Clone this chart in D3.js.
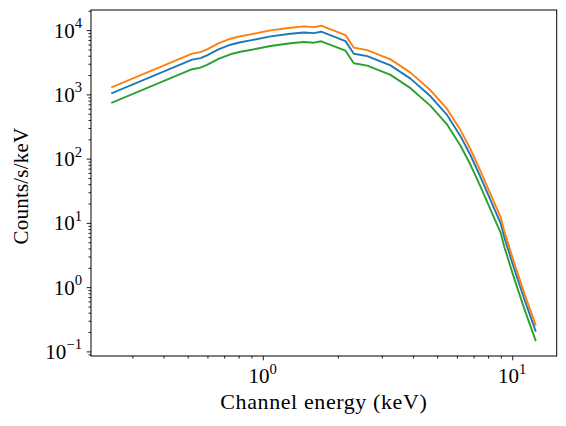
<!DOCTYPE html>
<html>
<head>
<meta charset="utf-8">
<script src="https://cdn.jsdelivr.net/npm/d3@7"></script>
<style>
  html, body { margin: 0; padding: 0; background: #fff; }
  svg text { font-family: "Liberation Serif", "DejaVu Serif", serif; fill: #000; }
</style>
</head>
<body>
<svg id="chart" width="566" height="426"></svg>
<script>
// channel energy (keV)
var energy = [0.249, 0.521, 0.563, 0.598, 0.664, 0.742, 0.814, 0.893, 1.074, 1.291, 1.460,
    1.602, 1.715, 2.146, 2.317, 2.623, 3.251, 3.910, 4.704, 5.488, 6.204, 6.804, 7.463,
    8.185, 8.98, 9.31, 10.21, 11.20, 12.40];

// counts/s/keV, three spectra
var seriesOrange = [1303, 4304, 4557, 5018, 6220, 7357, 8044, 8578, 9901, 10907, 11423,
    11140, 11713, 8368, 5332, 4896, 3510, 2182, 1158, 588, 278, 140, 64.0,
    28.1, 12.4, 7.23, 2.31, 0.787, 0.260];
var seriesBlue = [1051, 3471, 3675, 4047, 5015, 5933, 6487, 6918, 7985, 8796, 9212,
    8984, 9446, 6748, 4300, 3948, 2831, 1760, 934, 474, 224, 113, 51.6,
    22.7, 9.96, 5.83, 1.86, 0.635, 0.210];
var seriesGreen = [746, 2464, 2609, 2873, 3561, 4212, 4606, 4912, 5669, 6245, 6541,
    6379, 6707, 4791, 3053, 2803, 2010, 1250, 663, 337, 159, 80.2, 36.6,
    16.1, 7.07, 4.14, 1.32, 0.451, 0.149];

var xTickExp = [0, 1];
var yTickExp = [-1, 0, 1, 2, 3, 4];

var series = [
    { values: seriesBlue, color: "#1f77b4" },
    { values: seriesOrange, color: "#ff7f0e" },
    { values: seriesGreen, color: "#2ca02c" }
];

var margin = { left: 91, top: 10, right: 9.3, bottom: 70 };
var svg = d3.select("#chart");
var width = 566 - margin.left - margin.right,
    height = 426 - margin.top - margin.bottom;

// log axes with 5% margins like matplotlib
var logPad = function (lo, hi) {
    var a = Math.log10(lo), b = Math.log10(hi), p = (b - a) * 0.05;
    return [Math.pow(10, a - p), Math.pow(10, b + p)];
};
var allY = seriesBlue.concat(seriesOrange, seriesGreen);
var x = d3.scaleLog().domain(logPad(d3.min(energy), d3.max(energy))).range([0, width]);
var y = d3.scaleLog().domain(logPad(d3.min(allY), d3.max(allY))).range([height, 0]);

var root = svg.append("g")
    .attr("transform", "translate(" + margin.left + "," + margin.top + ")");

// minor tick values inside the domain
var minorTicks = function (scale) {
    var d = scale.domain(), out = [];
    for (var e = Math.floor(Math.log10(d[0])); e <= Math.ceil(Math.log10(d[1])); e++) {
        for (var m = 2; m <= 9; m++) {
            var v = m * Math.pow(10, e);
            if (v >= d[0] && v <= d[1]) out.push(v);
        }
    }
    return out;
};

var xMajor = xTickExp.map(function (e) { return Math.pow(10, e); });
var yMajor = yTickExp.map(function (e) { return Math.pow(10, e); });

var gx = root.append("g").attr("transform", "translate(0," + height + ")");
gx.append("g").call(d3.axisBottom(x).tickValues(xMajor).tickSize(4.3).tickFormat(""));
gx.append("g").call(d3.axisBottom(x).tickValues(minorTicks(x)).tickSize(2.5).tickFormat(""));
var gy = root.append("g");
gy.append("g").call(d3.axisLeft(y).tickValues(yMajor).tickSize(4.3).tickFormat(""));
gy.append("g").call(d3.axisLeft(y).tickValues(minorTicks(y)).tickSize(2.5).tickFormat(""));
root.selectAll(".domain").remove();
root.selectAll(".tick line").attr("stroke", "#000").attr("stroke-width", 0.9);

var fs = 21;
var powerLabel = function (sel, exp) {
    sel.append("tspan").text("10");
    sel.append("tspan")
        .attr("dy", -0.45 * fs)
        .attr("font-size", fs * 0.7)
        .text(exp < 0 ? "\u2212" + Math.abs(exp) : exp);
};

xTickExp.forEach(function (e) {
    root.append("text")
        .attr("x", x(Math.pow(10, e)))
        .attr("y", height + 27)
        .attr("text-anchor", "middle")
        .attr("font-size", fs)
        .call(powerLabel, e);
});
yTickExp.forEach(function (e) {
    root.append("text")
        .attr("x", -9)
        .attr("y", y(Math.pow(10, e)) + 7.5)
        .attr("text-anchor", "end")
        .attr("font-size", fs)
        .call(powerLabel, e);
});

// lines
var line = d3.line()
    .x(function (d, i) { return x(energy[i]); })
    .y(function (d) { return y(d); });

root.selectAll("path.spec")
    .data(series)
    .enter()
    .append("path")
    .attr("class", "spec")
    .attr("fill", "none")
    .attr("stroke", function (d) { return d.color; })
    .attr("stroke-width", 1.9)
    .attr("stroke-linejoin", "round")
    .attr("stroke-linecap", "square")
    .attr("d", function (d) { return line(d.values); });

// frame
root.append("rect")
    .attr("width", width)
    .attr("height", height)
    .attr("fill", "none")
    .attr("stroke", "#000")
    .attr("stroke-width", 1);

// axis labels
svg.append("text")
    .attr("x", margin.left + width / 2)
    .attr("y", 409)
    .attr("text-anchor", "middle")
    .attr("font-size", 22)
    .attr("letter-spacing", 0.6)
    .text("Channel energy (keV)");

svg.append("text")
    .attr("transform", "translate(28,186) rotate(-90)")
    .attr("text-anchor", "middle")
    .attr("font-size", fs)
    .attr("letter-spacing", 0.2)
    .text("Counts/s/keV");
</script>
</body>
</html>
